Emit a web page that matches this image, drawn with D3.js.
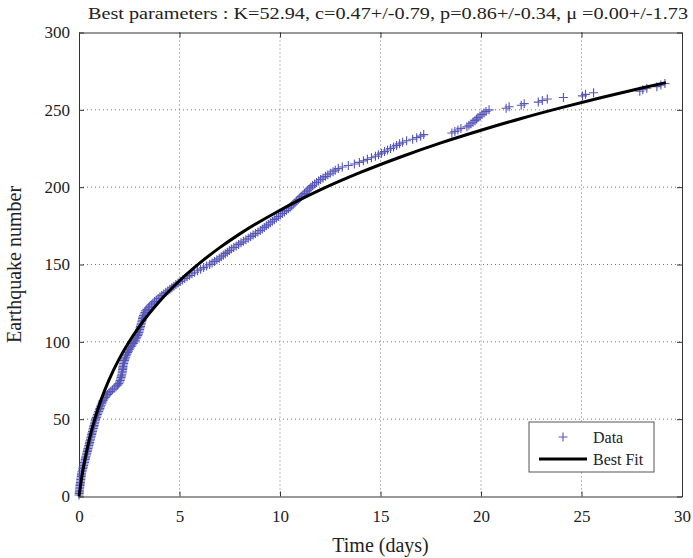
<!DOCTYPE html>
<html>
<head>
<meta charset="utf-8">
<script src="https://d3js.org/d3.v7.min.js"></script>
<style>
  body { margin: 0; background: #fff; }
  text { font-family: "Liberation Serif", "DejaVu Serif", serif; fill: #222; }
</style>
</head>
<body>
<svg width="693" height="558"></svg>
<script>
// event times (days); earthquake number is the rank of each event
const eventTimes = [
  0.00, 0.01, 0.02, 0.02, 0.03, 0.04, 0.05, 0.06, 0.07, 0.08,
  0.09, 0.10, 0.11, 0.12, 0.13, 0.15, 0.17, 0.19, 0.21, 0.23,
  0.25, 0.27, 0.29, 0.31, 0.33, 0.35, 0.37, 0.39, 0.41, 0.43,
  0.45, 0.47, 0.49, 0.51, 0.53, 0.55, 0.57, 0.59, 0.61, 0.63,
  0.65, 0.67, 0.69, 0.71, 0.73, 0.75, 0.77, 0.79, 0.81, 0.83,
  0.86, 0.89, 0.92, 0.95, 0.98, 1.01, 1.04, 1.07, 1.10, 1.14,
  1.16, 1.20, 1.25, 1.30, 1.36, 1.42, 1.50, 1.58, 1.66, 1.75,
  1.84, 1.92, 1.98, 2.02, 2.05, 2.07, 2.09, 2.11, 2.13, 2.15,
  2.16, 2.17, 2.18, 2.19, 2.20, 2.22, 2.24, 2.26, 2.29, 2.32,
  2.35, 2.38, 2.42, 2.46, 2.50, 2.55, 2.60, 2.65, 2.70, 2.75,
  2.80, 2.84, 2.88, 2.92, 2.95, 2.98, 3.00, 3.02, 3.04, 3.06,
  3.08, 3.10, 3.12, 3.14, 3.16, 3.18, 3.21, 3.24, 3.28, 3.32,
  3.38, 3.45, 3.52, 3.60, 3.68, 3.76, 3.85, 3.94, 4.03, 4.12,
  4.22, 4.32, 4.42, 4.52, 4.62, 4.72, 4.82, 4.93, 5.04, 5.15,
  5.26, 5.38, 5.50, 5.62, 5.75, 5.90, 6.05, 6.20, 6.35, 6.50,
  6.62, 6.74, 6.86, 6.98, 7.08, 7.18, 7.28, 7.38, 7.48, 7.58,
  7.70, 7.82, 7.94, 8.06, 8.18, 8.30, 8.42, 8.54, 8.66, 8.78,
  8.90, 9.02, 9.12, 9.22, 9.32, 9.42, 9.52, 9.62, 9.72, 9.82,
  9.92, 10.02, 10.12, 10.22, 10.32, 10.42, 10.50, 10.58, 10.66, 10.74,
  10.82, 10.90, 10.98, 11.06, 11.14, 11.22, 11.30, 11.38, 11.46, 11.54,
  11.62, 11.72, 11.82, 11.92, 12.02, 12.14, 12.26, 12.38, 12.50, 12.64,
  12.75, 12.90, 13.10, 13.40, 13.70, 13.95, 14.15, 14.35, 14.55, 14.75,
  14.90, 15.05, 15.20, 15.35, 15.50, 15.65, 15.80, 15.95, 16.10, 16.30,
  16.60, 16.80, 17.00, 17.15,
  18.55, 18.70, 18.85, 19.00,
  19.30, 19.40, 19.50, 19.60, 19.70, 19.78, 19.85,
  19.95, 20.05, 20.15, 20.25, 20.40,
  21.25, 21.40, 22.00, 22.15, 22.85, 23.05, 23.30, 24.10,
  25.05, 25.20, 25.60, 27.90, 28.05, 28.25, 28.75, 28.95, 29.15
];

// best fit curve
const fitTime = [0, 0.1, 0.25, 0.5, 0.75, 1, 1.5, 2, 2.5, 3, 4, 5, 6, 7, 8, 10,
                 12, 14, 16, 18, 20, 22, 24, 26, 28, 29.2];
const fitCount = [0, 9.3, 20.9, 36.3, 48.6, 58.9, 75.6, 89.0, 100.2, 109.9, 126.1,
                  139.5, 150.9, 160.9, 169.8, 185.1, 198.2, 209.5, 219.5, 228.6,
                  236.8, 244.4, 251.4, 258.0, 264.1, 267.6];

const xTicks = [0, 5, 10, 15, 20, 25, 30];
const yTicks = [0, 50, 100, 150, 200, 250, 300];
const titleText = 'Best parameters : K=52.94, c=0.47+/-0.79, p=0.86+/-0.34, \u03bc =0.00+/-1.73';

const data = eventTimes.map((t, i) => ({t: t, n: i + 1}));
const fit = fitTime.map((t, i) => ({t: t, n: fitCount[i]}));

const margin = {left: 79, right: 11, top: 32.5, bottom: 61.5};
const svg = d3.select('svg');
const width = +svg.attr('width');
const height = +svg.attr('height');
const innerWidth = width - margin.left - margin.right;
const innerHeight = height - margin.top - margin.bottom;

const g = svg.append('g')
    .attr('transform', `translate(${margin.left},${margin.top})`);

const xScale = d3.scaleLinear().domain([0, 30]).range([0, innerWidth]);
const yScale = d3.scaleLinear().domain([0, 300]).range([innerHeight, 0]);

// dotted grid
g.append('g').selectAll('line').data(xTicks.slice(1, -1)).join('line')
    .attr('x1', d => xScale(d)).attr('x2', d => xScale(d))
    .attr('y1', 0).attr('y2', innerHeight)
    .attr('stroke', '#777').attr('stroke-dasharray', '1,3');
g.append('g').selectAll('line').data(yTicks.slice(1, -1)).join('line')
    .attr('y1', d => yScale(d)).attr('y2', d => yScale(d))
    .attr('x1', 0).attr('x2', innerWidth)
    .attr('stroke', '#777').attr('stroke-dasharray', '1,3');

// axes with inward ticks on all sides
const axisStyle = sel => {
  sel.select('.domain').attr('stroke', '#333');
  sel.selectAll('.tick line').attr('stroke', '#333');
  sel.selectAll('.tick text')
      .style('font-family', '"Liberation Serif", serif')
      .style('font-size', '17px')
      .attr('fill', '#222');
};
const noLabels = sel => sel.selectAll('.tick text').remove();

g.append('g').attr('transform', `translate(0,${innerHeight})`)
    .call(d3.axisBottom(xScale).tickValues(xTicks).tickSize(-5).tickPadding(13).tickSizeOuter(0))
    .call(axisStyle);
g.append('g')
    .call(d3.axisLeft(yScale).tickValues(yTicks).tickSize(-5).tickPadding(9).tickSizeOuter(0))
    .call(axisStyle);
g.append('g')
    .call(d3.axisTop(xScale).tickValues(xTicks).tickSize(-5).tickSizeOuter(0))
    .call(axisStyle).call(noLabels);
g.append('g').attr('transform', `translate(${innerWidth},0)`)
    .call(d3.axisRight(yScale).tickValues(yTicks).tickSize(-5).tickSizeOuter(0))
    .call(axisStyle).call(noLabels);

// data crosses
const cross = 'M-4.5,0H4.5M0,-4.5V4.5';
g.append('g').selectAll('path').data(data).join('path')
    .attr('transform', d => `translate(${xScale(d.t)},${yScale(d.n)})`)
    .attr('d', cross)
    .attr('fill', 'none')
    .attr('stroke', '#5656b8')
    .attr('stroke-width', 1.1);

// best fit
const line = d3.line()
    .x(d => xScale(d.t))
    .y(d => yScale(d.n))
    .curve(d3.curveMonotoneX);
g.append('path')
    .datum(fit)
    .attr('fill', 'none')
    .attr('stroke', '#000')
    .attr('stroke-width', 3)
    .attr('d', line);

// legend
const legend = svg.append('g').attr('transform', 'translate(529,422)');
legend.append('rect')
    .attr('width', 125).attr('height', 50)
    .attr('fill', '#fff').attr('stroke', '#555');
legend.append('path')
    .attr('transform', 'translate(34,15)')
    .attr('d', cross)
    .attr('stroke', '#5656b8').attr('stroke-width', 1.1);
legend.append('line')
    .attr('x1', 10).attr('x2', 58).attr('y1', 37).attr('y2', 37)
    .attr('stroke', '#000').attr('stroke-width', 3);
legend.append('text').attr('x', 64).attr('y', 21)
    .style('font-size', '16px').text('Data');
legend.append('text').attr('x', 64).attr('y', 43)
    .style('font-size', '16px').text('Best Fit');

// title and axis labels
svg.append('text')
    .attr('x', 88).attr('y', 19)
    .attr('textLength', 600)
    .attr('lengthAdjust', 'spacingAndGlyphs')
    .style('font-size', '17.5px')
    .text(titleText);
svg.append('text')
    .attr('x', margin.left + innerWidth / 2).attr('y', 552)
    .attr('text-anchor', 'middle')
    .style('font-size', '20px')
    .text('Time (days)');
svg.append('text')
    .attr('transform', `translate(21,${margin.top + innerHeight / 2}) rotate(-90)`)
    .attr('text-anchor', 'middle')
    .style('font-size', '20px')
    .text('Earthquake number');
</script>
</body>
</html>
